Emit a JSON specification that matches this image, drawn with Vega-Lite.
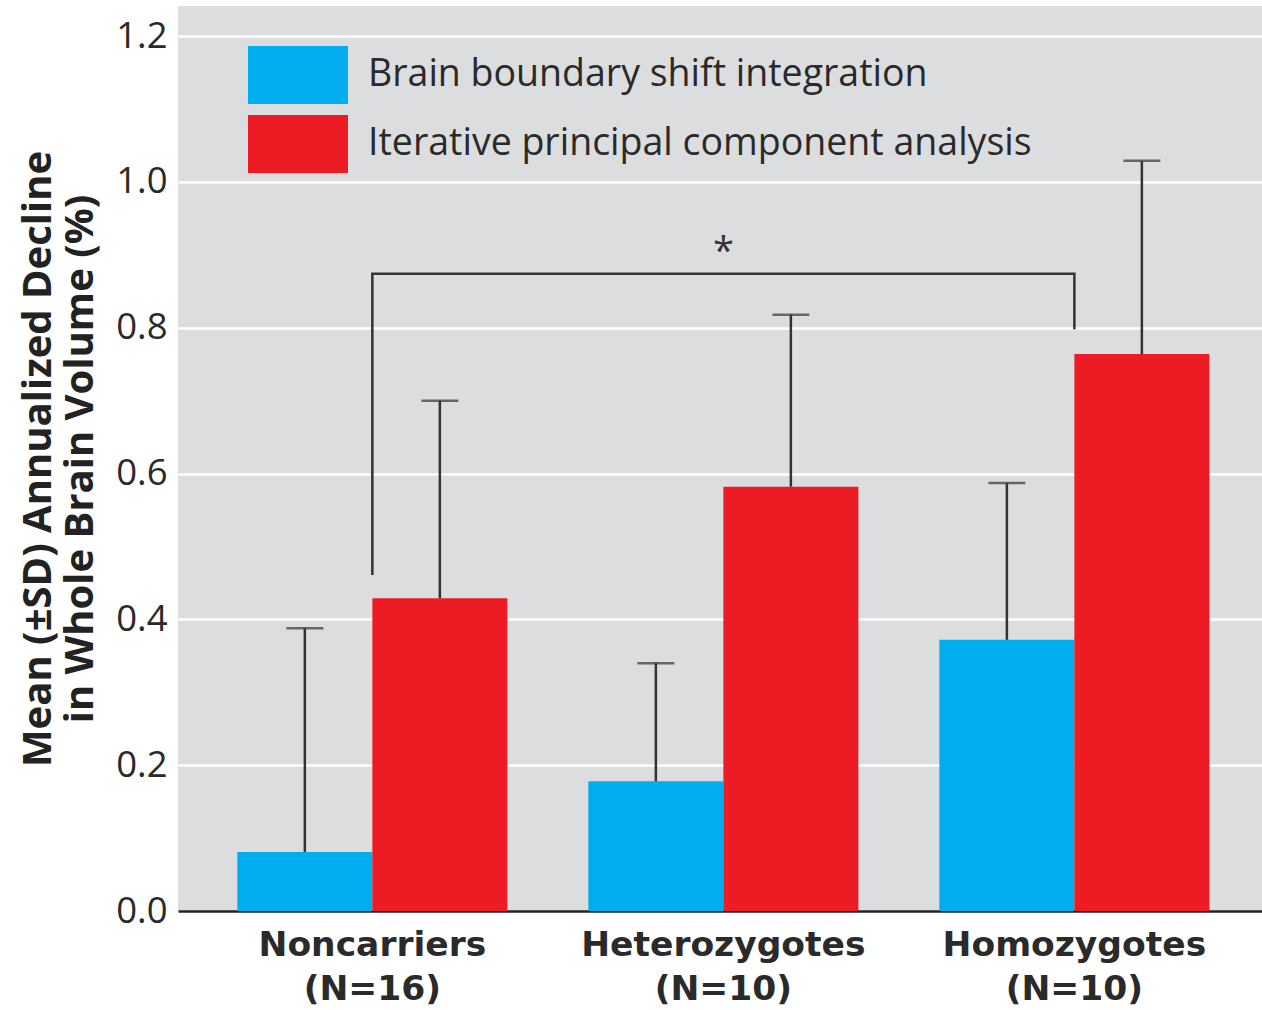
{
  "$schema": "https://vega.github.io/schema/vega-lite/v6.json",
  "width": 1084,
  "height": 905,
  "autosize": "none",
  "padding": {"left": 178, "top": 6, "right": 0, "bottom": 99},
  "background": "white",
  "config": {
    "view": {"fill": "#dcddde", "stroke": null},
    "font": "Open Sans"
  },
  "datasets": {
    "bars": [
      {"group": "Noncarriers (N=16)", "method": "Brain boundary shift integration", "mean": 0.081, "upper": 0.388},
      {"group": "Noncarriers (N=16)", "method": "Iterative principal component analysis", "mean": 0.429, "upper": 0.70},
      {"group": "Heterozygotes (N=10)", "method": "Brain boundary shift integration", "mean": 0.178, "upper": 0.34},
      {"group": "Heterozygotes (N=10)", "method": "Iterative principal component analysis", "mean": 0.582, "upper": 0.818},
      {"group": "Homozygotes (N=10)", "method": "Brain boundary shift integration", "mean": 0.372, "upper": 0.587},
      {"group": "Homozygotes (N=10)", "method": "Iterative principal component analysis", "mean": 0.764, "upper": 1.029}
    ],
    "bracket": [
      {"group": "Noncarriers (N=16)", "value": 0.461, "order": 1},
      {"group": "Noncarriers (N=16)", "value": 0.874, "order": 2},
      {"group": "Homozygotes (N=10)", "value": 0.874, "order": 3},
      {"group": "Homozygotes (N=10)", "value": 0.798, "order": 4}
    ],
    "star": [
      {"group": "Heterozygotes (N=10)", "value": 0.914, "label": "*"}
    ]
  },
  "encoding": {
    "x": {
      "field": "group",
      "type": "nominal",
      "sort": ["Noncarriers (N=16)", "Heterozygotes (N=10)", "Homozygotes (N=10)"],
      "scale": {"paddingInner": 0.2308, "paddingOuter": 0.1595, "align": 0.53},
      "axis": {
        "title": null,
        "labelAngle": 0,
        "labelExpr": "split(datum.label, ' ')",
        "labelFont": "DejaVu Sans",
        "labelFontWeight": "bold",
        "labelFontSize": 34.5,
        "labelColor": "#2a2a2a",
        "labelLineHeight": 44,
        "labelPadding": 17,
        "labelLimit": 1000,
        "ticks": false,
        "domain": true,
        "domainColor": "#222",
        "domainWidth": 2.5,
        "grid": false
      }
    }
  },
  "layer": [
    {
      "data": {"name": "bars"},
      "mark": {"type": "bar"},
      "encoding": {
        "xOffset": {
          "field": "method",
          "type": "nominal",
          "sort": ["Brain boundary shift integration", "Iterative principal component analysis"],
          "scale": {"paddingInner": 0, "paddingOuter": 0}
        },
        "y": {
          "field": "mean",
          "type": "quantitative",
          "scale": {"domain": [0, 1.2414], "nice": false, "zero": true},
          "axis": {
            "values": [0, 0.2, 0.4, 0.6, 0.8, 1.0, 1.2],
            "format": ".1f",
            "title": ["Mean (±SD) Annualized Decline", "in Whole Brain Volume (%)"],
            "titleFont": "Open Sans",
            "titleFontWeight": "bold",
            "titleFontSize": 40,
            "titleLineHeight": 42,
            "titleColor": "#222",
            "titlePadding": 15,
            "labelFont": "Open Sans",
            "labelFontSize": 36.5,
            "labelColor": "#2a2a2a",
            "labelPadding": 11,
            "ticks": false,
            "domain": false,
            "grid": true,
            "gridColor": "white",
            "gridWidth": 2.5
          }
        },
        "color": {
          "field": "method",
          "type": "nominal",
          "sort": ["Brain boundary shift integration", "Iterative principal component analysis"],
          "scale": {"range": ["#00aeef", "#ed1c24"]},
          "legend": {
            "title": null,
            "orient": "none",
            "legendX": 91,
            "legendY": 40,
            "padding": 0,
            "symbolType": "M-1.724,-1H1.724V1H-1.724Z",
            "symbolSize": 3364,
            "symbolStrokeWidth": 0,
            "symbolOpacity": 1,
            "labelFont": "Open Sans",
            "labelFontSize": 37.5,
            "labelColor": "#2a2a2a",
            "labelOffset": 41,
            "rowPadding": 11,
            "labelLimit": 1000
          }
        }
      }
    },
    {
      "data": {"name": "bars"},
      "mark": {"type": "rule", "color": "#333", "strokeWidth": 2.5},
      "encoding": {
        "xOffset": {
          "field": "method",
          "type": "nominal",
          "sort": ["Brain boundary shift integration", "Iterative principal component analysis"]
        },
        "y": {"field": "mean", "type": "quantitative"},
        "y2": {"field": "upper"}
      }
    },
    {
      "data": {"name": "bars"},
      "mark": {"type": "tick", "color": "#333", "thickness": 2.5, "size": 37, "orient": "horizontal"},
      "encoding": {
        "xOffset": {
          "field": "method",
          "type": "nominal",
          "sort": ["Brain boundary shift integration", "Iterative principal component analysis"]
        },
        "y": {"field": "upper", "type": "quantitative"}
      }
    },
    {
      "data": {"name": "bracket"},
      "mark": {"type": "line", "color": "#333", "strokeWidth": 2.5, "strokeJoin": "miter"},
      "encoding": {
        "y": {"field": "value", "type": "quantitative"},
        "order": {"field": "order", "type": "quantitative"}
      }
    },
    {
      "data": {"name": "star"},
      "mark": {"type": "text", "fontSize": 38, "color": "#333", "baseline": "middle", "dy": 8},
      "encoding": {
        "y": {"field": "value", "type": "quantitative"},
        "text": {"field": "label"}
      }
    }
  ]
}
